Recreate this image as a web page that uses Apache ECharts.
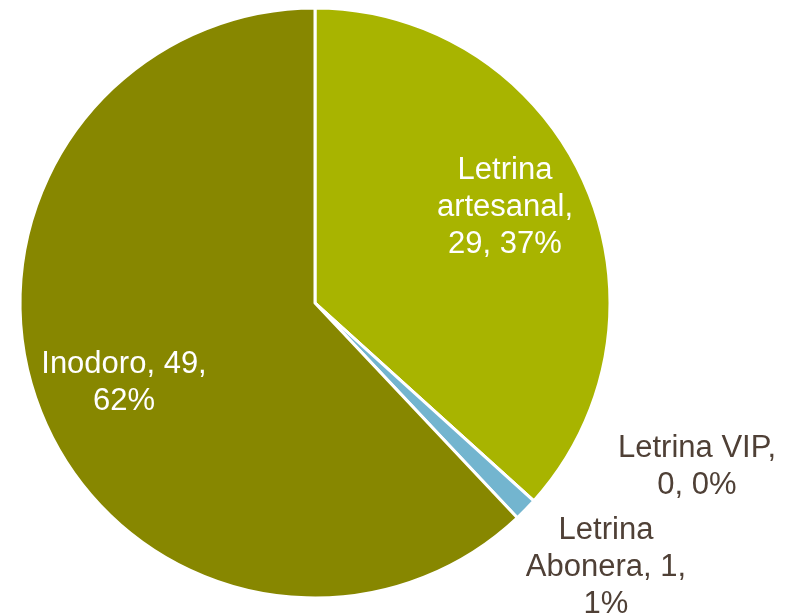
<!DOCTYPE html>
<html>
<head>
<meta charset="utf-8">
<script src="https://cdn.jsdelivr.net/npm/echarts@6/dist/echarts.min.js"></script>
<style>
  html, body { margin: 0; padding: 0; background: #fff; }
  #chart { width: 799px; height: 616px; }
</style>
</head>
<body>
<div id="chart"></div>
<script>
// datos
var categories = ['Letrina\nartesanal', 'Letrina VIP', 'Letrina\nAbonera', 'Inodoro'];
var values = [29, 0, 1, 49];
var colors = ['#a8b400', '#9bbb59', '#73b5cf', '#878700'];

// separadores del texto de cada etiqueta (nombre|valor|porcentaje)
var sepAfterName = [',\n', ',\n', ', ', ', '];
var sepAfterValue = [', ', ', ', ',\n', ',\n'];
var labelColor = ['#ffffff', '#4f4036', '#4f4036', '#ffffff'];
// centro de cada etiqueta
var labelPos = [[505, 207], [697, 467], [606, 567], [124, 383]];

var chart = echarts.init(document.getElementById('chart'));

var option = {
  animation: false,
  series: [{
    type: 'pie',
    center: [315, 303],
    radius: 295,
    startAngle: 90,
    clockwise: true,
    percentPrecision: 0,
    avoidLabelOverlap: false,
    itemStyle: {
      borderColor: '#ffffff',
      borderWidth: 3
    },
    label: {
      show: true,
      position: 'inside',
      fontFamily: 'Liberation Sans, Arial, sans-serif',
      fontSize: 31,
      lineHeight: 37,
      align: 'center',
      formatter: function (p) {
        var i = p.dataIndex;
        return p.name + sepAfterName[i] + p.value + sepAfterValue[i] + Math.round(p.percent) + '%';
      }
    },
    labelLine: { show: false },
    labelLayout: function (p) {
      var pos = labelPos[p.dataIndex];
      return { x: pos[0], y: pos[1], align: 'center', verticalAlign: 'middle' };
    },
    data: categories.map(function (c, i) {
      return {
        name: c,
        value: values[i],
        itemStyle: { color: colors[i] },
        label: { color: labelColor[i] }
      };
    })
  }]
};

chart.setOption(option);
</script>
</body>
</html>
